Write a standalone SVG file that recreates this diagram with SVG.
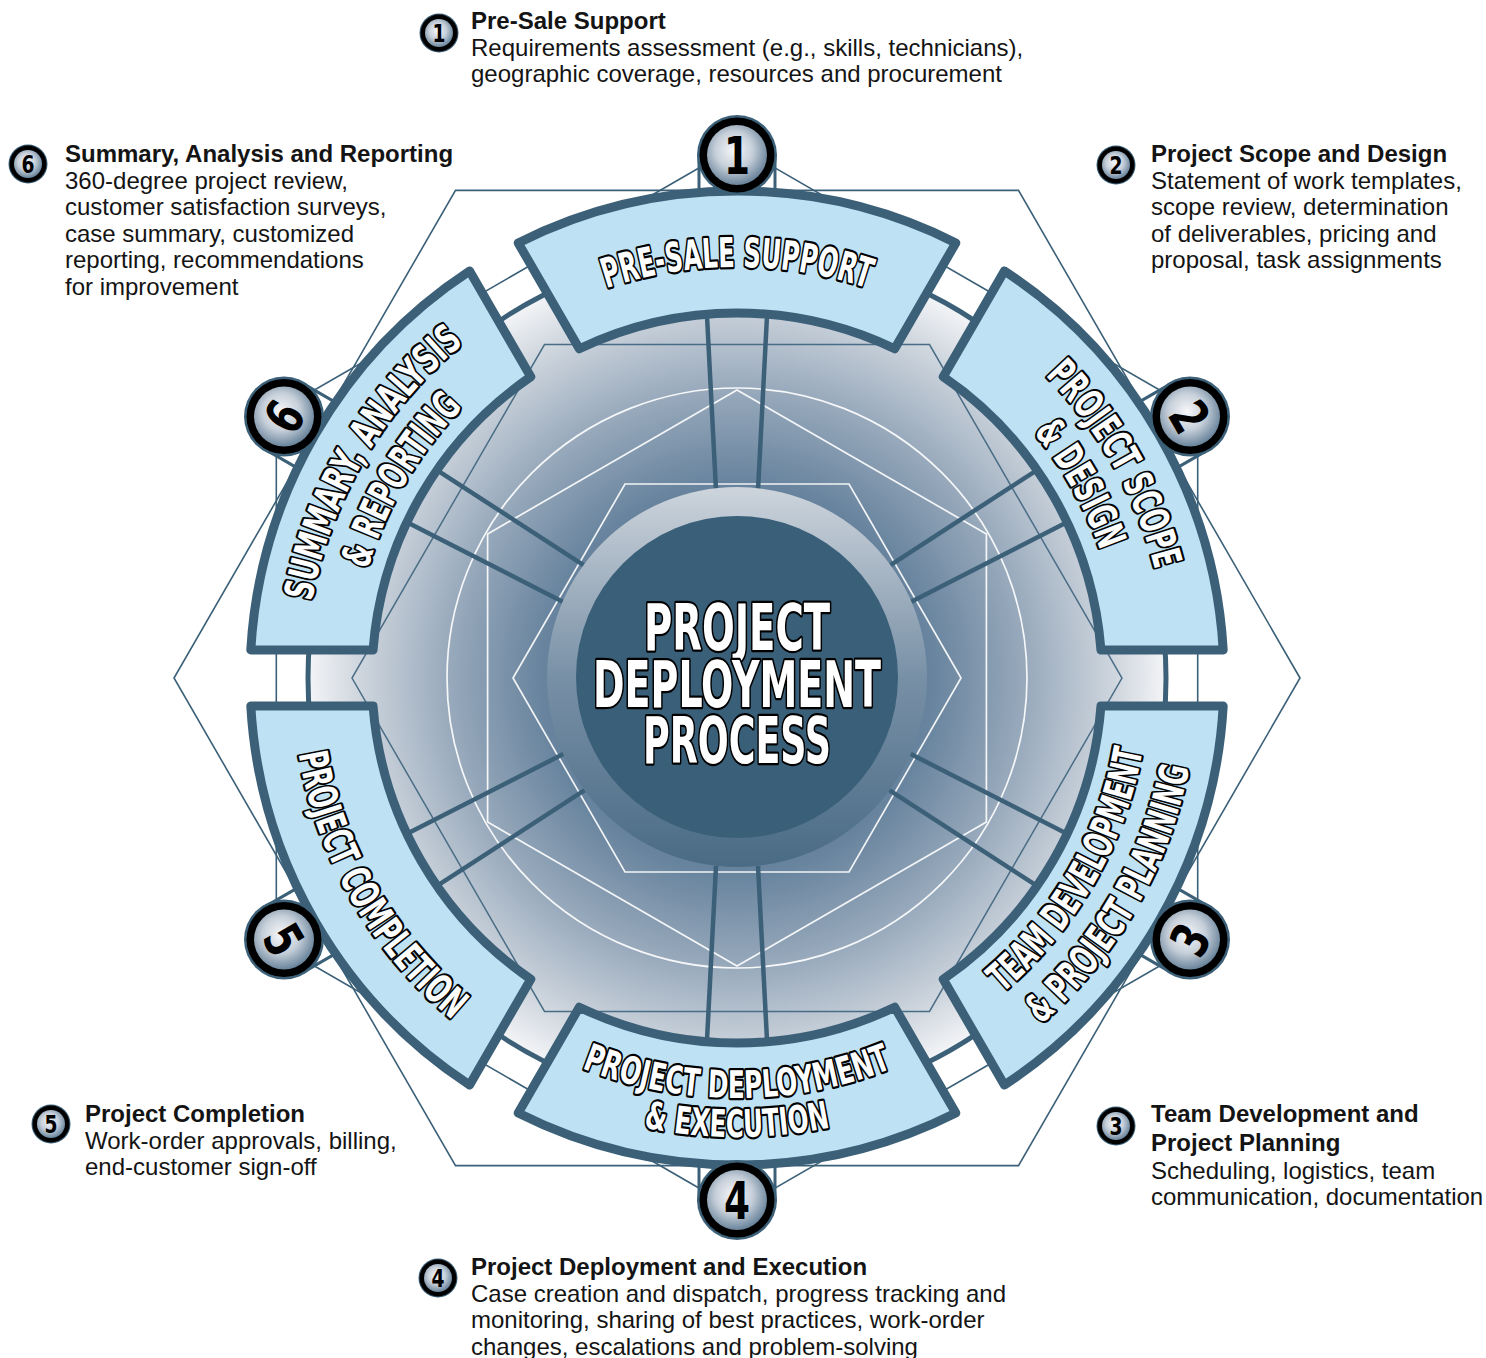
<svg xmlns="http://www.w3.org/2000/svg" width="1486" height="1358" viewBox="0 0 1486 1358">
<defs>
<style>
.seg{fill:#bee2f4;stroke:#3b6078;stroke-width:9;stroke-linejoin:round}
.thin{fill:none;stroke:#3b6078;stroke-width:1.6}
.wl{fill:none;stroke:#ffffff;stroke-width:1.7;opacity:0.9}
.spoke{stroke:#3b6078;stroke-width:4.5;stroke-linecap:butt}
.ped{fill:#ffffff;stroke:#3b6078;stroke-width:3}
.lbl{font-family:"DejaVu Sans Condensed","DejaVu Sans","Liberation Sans Narrow",sans-serif;font-weight:bold;fill:#ffffff;stroke:#000000;stroke-width:4.5;paint-order:stroke;stroke-linejoin:round;text-anchor:middle}
.num{font-family:"DejaVu Sans Condensed","DejaVu Sans","Liberation Sans Narrow",sans-serif;font-weight:bold;fill:#000000;text-anchor:middle}
.ttl{font-family:"Liberation Sans",Arial,sans-serif;font-weight:bold;font-size:24px;fill:#141414}
.body{font-family:"Liberation Sans",Arial,sans-serif;font-size:24px;fill:#141414}
</style>
<radialGradient id="discGrad" gradientUnits="userSpaceOnUse" cx="737" cy="678" r="430">
<stop offset="0" stop-color="#3d607a"/>
<stop offset="0.45" stop-color="#67839d"/>
<stop offset="0.68" stop-color="#9aabbd"/>
<stop offset="0.88" stop-color="#cfd6de"/>
<stop offset="1" stop-color="#f4f5f7"/>
</radialGradient>
<linearGradient id="rimGrad" x1="0" y1="0" x2="0" y2="1">
<stop offset="0" stop-color="#cdd4dc"/>
<stop offset="0.5" stop-color="#7890a6"/>
<stop offset="1" stop-color="#4a6b85"/>
</linearGradient>
<radialGradient id="badgeGrad" cx="0.45" cy="0.42" r="0.62">
<stop offset="0" stop-color="#f7f8fa"/>
<stop offset="0.5" stop-color="#c6cfd9"/>
<stop offset="1" stop-color="#5d7a93"/>
</radialGradient>
<path id="cw411" d="M -411,0 A 411 411 0 0 1 411,0"/>
<path id="cw432" d="M -432,0 A 432 432 0 0 1 432,0"/>
<path id="cw385" d="M -385,0 A 385 385 0 0 1 385,0"/>
<path id="ccw412" d="M -412,0 A 412 412 0 0 0 412,0"/>
<path id="ccw461" d="M -461,0 A 461 461 0 0 0 461,0"/>
<path id="ccw420" d="M -420,0 A 420 420 0 0 0 420,0"/>
<path id="ccw459" d="M -459,0 A 459 459 0 0 0 459,0"/>
<path id="ccw445" d="M -445,0 A 445 445 0 0 0 445,0"/>
<path id="segShape" d="M -218.8,-435.1 A 487 487 0 0 1 218.8,-435.1 L 157.7,-329.2 A 365 365 0 0 0 -157.7,-329.2 Z"/>
</defs>

<rect x="0" y="0" width="1486" height="1358" fill="#ffffff"/>

<g id="connectors">
<polygon class="thin" points="1300,678 1018.5,190.4 455.5,190.4 174,678 455.5,1165.6 1018.5,1165.6"/>
<polygon class="thin" points="737,146 1197.7,412 1197.7,944 737,1210 276.3,944 276.3,412"/>
</g>

<g id="disc">
<circle cx="737" cy="678" r="429" fill="url(#discGrad)" stroke="#3b6078" stroke-width="5"/>
<polygon fill="none" stroke="#4a6d86" stroke-width="1.5" points="1122,678 929.5,344.6 544.5,344.6 352,678 544.5,1011.4 929.5,1011.4"/>
<circle class="wl" cx="737" cy="678" r="290"/>
<polygon class="wl" points="737,390 986.4,534 986.4,822 737,966 487.6,822 487.6,534"/>
<polygon class="wl" points="961,678 849,484 625,484 513,678 625,872 849,872"/>
<g id="spokes" transform="translate(737,678)">
<g><line class="spoke" x1="-30" y1="-362" x2="-21" y2="-188"/><line class="spoke" x1="30" y1="-362" x2="21" y2="-188"/></g>
<g transform="rotate(60)"><line class="spoke" x1="-30" y1="-362" x2="-21" y2="-188"/><line class="spoke" x1="30" y1="-362" x2="21" y2="-188"/></g>
<g transform="rotate(120)"><line class="spoke" x1="-30" y1="-362" x2="-21" y2="-188"/><line class="spoke" x1="30" y1="-362" x2="21" y2="-188"/></g>
<g transform="rotate(180)"><line class="spoke" x1="-30" y1="-362" x2="-21" y2="-188"/><line class="spoke" x1="30" y1="-362" x2="21" y2="-188"/></g>
<g transform="rotate(240)"><line class="spoke" x1="-30" y1="-362" x2="-21" y2="-188"/><line class="spoke" x1="30" y1="-362" x2="21" y2="-188"/></g>
<g transform="rotate(300)"><line class="spoke" x1="-30" y1="-362" x2="-21" y2="-188"/><line class="spoke" x1="30" y1="-362" x2="21" y2="-188"/></g>
</g>
</g>

<g id="center">
<circle cx="737" cy="677" r="190" fill="url(#rimGrad)"/>
<circle cx="737" cy="677" r="161" fill="#3a5f79"/>
<text class="lbl" font-size="64" stroke-width="5"><tspan x="737" y="650" textLength="186" lengthAdjust="spacingAndGlyphs">PROJECT</tspan><tspan x="737" y="707" textLength="288" lengthAdjust="spacingAndGlyphs">DEPLOYMENT</tspan><tspan x="737" y="763" textLength="188" lengthAdjust="spacingAndGlyphs">PROCESS</tspan></text>
</g>

<g id="pedestals" transform="translate(737,678)">
<rect class="ped" x="-38" y="-523" width="76" height="40"/>
<rect class="ped" x="-38" y="-523" width="76" height="40" transform="rotate(60)"/>
<rect class="ped" x="-38" y="-523" width="76" height="40" transform="rotate(120)"/>
<rect class="ped" x="-38" y="-523" width="76" height="40" transform="rotate(180)"/>
<rect class="ped" x="-38" y="-523" width="76" height="40" transform="rotate(240)"/>
<rect class="ped" x="-38" y="-523" width="76" height="40" transform="rotate(300)"/>
</g>

<g id="seg1" transform="translate(737,678)">
<use href="#segShape" class="seg"/>
<text class="lbl" font-size="41"><textPath href="#cw411" startOffset="50%" textLength="266" lengthAdjust="spacingAndGlyphs">PRE-SALE SUPPORT</textPath></text>
</g>
<g id="seg2" transform="translate(737,678)">
<use href="#segShape" class="seg" transform="rotate(60)"/>
<text class="lbl" font-size="40" transform="rotate(60.5)"><textPath href="#cw432" startOffset="50%" textLength="226" lengthAdjust="spacingAndGlyphs">PROJECT SCOPE</textPath><textPath href="#cw385" startOffset="50%" textLength="137" lengthAdjust="spacingAndGlyphs">&amp; DESIGN</textPath></text>
</g>
<g id="seg3" transform="translate(737,678)">
<use href="#segShape" class="seg" transform="rotate(120)"/>
<text class="lbl" font-size="40" transform="rotate(-60)"><textPath href="#ccw412" startOffset="50%" textLength="286" lengthAdjust="spacingAndGlyphs">TEAM DEVELOPMENT</textPath><textPath href="#ccw461" startOffset="50%" textLength="302" lengthAdjust="spacingAndGlyphs">&amp; PROJECT PLANNING</textPath></text>
</g>
<g id="seg4" transform="translate(737,678)">
<use href="#segShape" class="seg" transform="rotate(180)"/>
<text class="lbl" font-size="38"><textPath href="#ccw420" startOffset="50%" textLength="318" lengthAdjust="spacingAndGlyphs">PROJECT DEPLOYMENT</textPath><textPath href="#ccw459" startOffset="50%" textLength="188" lengthAdjust="spacingAndGlyphs">&amp; EXECUTION</textPath></text>
</g>
<g id="seg5" transform="translate(737,678)">
<use href="#segShape" class="seg" transform="rotate(240)"/>
<text class="lbl" font-size="40" transform="rotate(60)"><textPath href="#ccw445" startOffset="50%" textLength="314" lengthAdjust="spacingAndGlyphs">PROJECT COMPLETION</textPath></text>
</g>
<g id="seg6" transform="translate(737,678)">
<use href="#segShape" class="seg" transform="rotate(300)"/>
<text class="lbl" font-size="40" transform="rotate(-59.5)"><textPath href="#cw432" startOffset="50%" textLength="306" lengthAdjust="spacingAndGlyphs">SUMMARY, ANALYSIS</textPath><textPath href="#cw385" startOffset="50%" textLength="190" lengthAdjust="spacingAndGlyphs">&amp; REPORTING</textPath></text>
</g>

<g id="badge1" transform="translate(737,155)">
<circle r="40" fill="#3b6078"/><circle r="37.5" fill="#000"/><circle r="30" fill="url(#badgeGrad)"/>
<text class="num" font-size="52" y="19" textLength="26" lengthAdjust="spacingAndGlyphs">1</text>
</g>
<g id="badge2" transform="translate(1190,416.5)">
<circle r="40" fill="#3b6078"/><circle r="37.5" fill="#000"/><circle r="30" fill="url(#badgeGrad)"/>
<text class="num" font-size="52" y="19" transform="rotate(60)" textLength="26" lengthAdjust="spacingAndGlyphs">2</text>
</g>
<g id="badge3" transform="translate(1190,939.5)">
<circle r="40" fill="#3b6078"/><circle r="37.5" fill="#000"/><circle r="30" fill="url(#badgeGrad)"/>
<text class="num" font-size="52" y="19" transform="rotate(-60)" textLength="26" lengthAdjust="spacingAndGlyphs">3</text>
</g>
<g id="badge4" transform="translate(737,1200)">
<circle r="40" fill="#3b6078"/><circle r="37.5" fill="#000"/><circle r="30" fill="url(#badgeGrad)"/>
<text class="num" font-size="52" y="19" textLength="26" lengthAdjust="spacingAndGlyphs">4</text>
</g>
<g id="badge5" transform="translate(284,939.5)">
<circle r="40" fill="#3b6078"/><circle r="37.5" fill="#000"/><circle r="30" fill="url(#badgeGrad)"/>
<text class="num" font-size="52" y="19" transform="rotate(60)" textLength="26" lengthAdjust="spacingAndGlyphs">5</text>
</g>
<g id="badge6" transform="translate(284,416.5)">
<circle r="40" fill="#3b6078"/><circle r="37.5" fill="#000"/><circle r="30" fill="url(#badgeGrad)"/>
<text class="num" font-size="52" y="19" transform="rotate(-60)" textLength="26" lengthAdjust="spacingAndGlyphs">6</text>
</g>

<g id="desc1">
<g transform="translate(439,33)"><circle r="19.5" fill="#3b6078"/><circle r="18.5" fill="#000"/><circle r="14" fill="url(#badgeGrad)"/><text class="num" font-size="25" y="9" textLength="13" lengthAdjust="spacingAndGlyphs">1</text></g>
<text class="ttl" x="471" y="29">Pre-Sale Support</text>
<text class="body" x="471" y="56">Requirements assessment (e.g., skills, technicians),</text>
<text class="body" x="471" y="82">geographic coverage, resources and procurement</text>
</g>
<g id="desc2">
<g transform="translate(1116,165)"><circle r="19.5" fill="#3b6078"/><circle r="18.5" fill="#000"/><circle r="14" fill="url(#badgeGrad)"/><text class="num" font-size="25" y="9" textLength="13" lengthAdjust="spacingAndGlyphs">2</text></g>
<text class="ttl" x="1151" y="162">Project Scope and Design</text>
<text class="body" x="1151" y="188.5">Statement of work templates,</text>
<text class="body" x="1151" y="215">scope review, determination</text>
<text class="body" x="1151" y="241.5">of deliverables, pricing and</text>
<text class="body" x="1151" y="268">proposal, task assignments</text>
</g>
<g id="desc3">
<g transform="translate(1116,1126)"><circle r="19.5" fill="#3b6078"/><circle r="18.5" fill="#000"/><circle r="14" fill="url(#badgeGrad)"/><text class="num" font-size="25" y="9" textLength="13" lengthAdjust="spacingAndGlyphs">3</text></g>
<text class="ttl" x="1151" y="1122">Team Development and</text>
<text class="ttl" x="1151" y="1151">Project Planning</text>
<text class="body" x="1151" y="1178.5">Scheduling, logistics, team</text>
<text class="body" x="1151" y="1205">communication, documentation</text>
</g>
<g id="desc4">
<g transform="translate(438,1278)"><circle r="19.5" fill="#3b6078"/><circle r="18.5" fill="#000"/><circle r="14" fill="url(#badgeGrad)"/><text class="num" font-size="25" y="9" textLength="13" lengthAdjust="spacingAndGlyphs">4</text></g>
<text class="ttl" x="471" y="1275">Project Deployment and Execution</text>
<text class="body" x="471" y="1301.5">Case creation and dispatch, progress tracking and</text>
<text class="body" x="471" y="1328">monitoring, sharing of best practices, work-order</text>
<text class="body" x="471" y="1354.5">changes, escalations and problem-solving</text>
</g>
<g id="desc5">
<g transform="translate(51,1124)"><circle r="19.5" fill="#3b6078"/><circle r="18.5" fill="#000"/><circle r="14" fill="url(#badgeGrad)"/><text class="num" font-size="25" y="9" textLength="13" lengthAdjust="spacingAndGlyphs">5</text></g>
<text class="ttl" x="85" y="1122">Project Completion</text>
<text class="body" x="85" y="1148.5">Work-order approvals, billing,</text>
<text class="body" x="85" y="1175">end-customer sign-off</text>
</g>
<g id="desc6">
<g transform="translate(28,164)"><circle r="19.5" fill="#3b6078"/><circle r="18.5" fill="#000"/><circle r="14" fill="url(#badgeGrad)"/><text class="num" font-size="25" y="9" textLength="13" lengthAdjust="spacingAndGlyphs">6</text></g>
<text class="ttl" x="65" y="162">Summary, Analysis and Reporting</text>
<text class="body" x="65" y="188.5">360-degree project review,</text>
<text class="body" x="65" y="215">customer satisfaction surveys,</text>
<text class="body" x="65" y="241.5">case summary, customized</text>
<text class="body" x="65" y="268">reporting, recommendations</text>
<text class="body" x="65" y="295">for improvement</text>
</g>
</svg>
